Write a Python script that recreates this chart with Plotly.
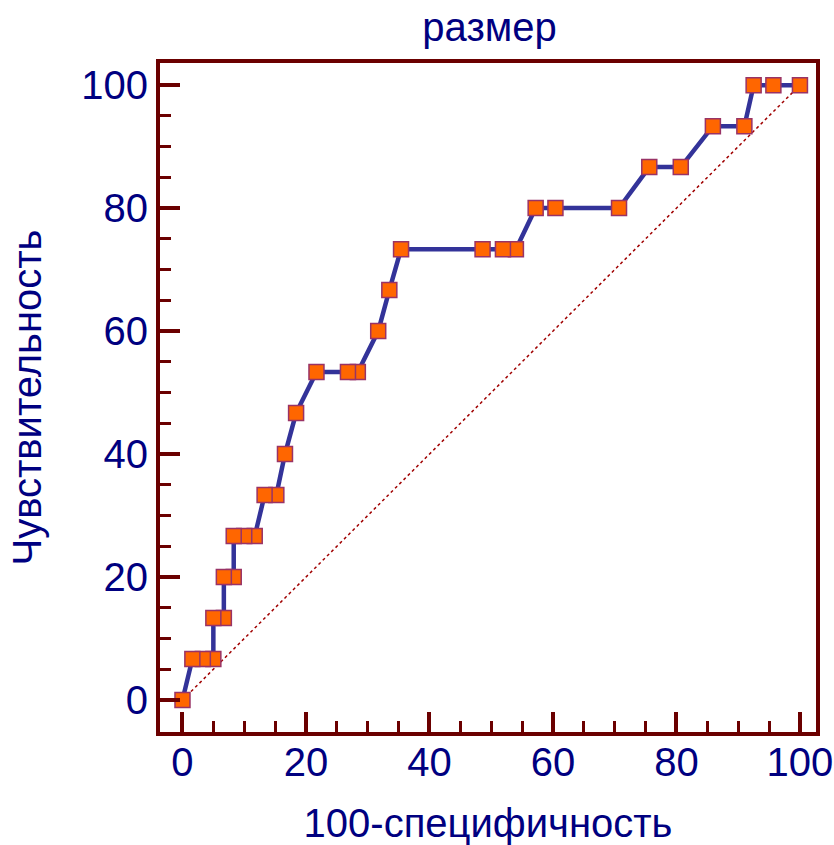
import plotly.graph_objects as go

# ROC data (100-specificity, sensitivity)
fpr = [0, 1.6, 3.3, 5.0, 5.0, 6.7, 6.7, 8.3, 8.3, 10.0, 11.7, 13.3, 15.2, 16.6, 18.4,
       21.7, 26.8, 28.4, 31.7, 33.5, 35.4, 48.6, 51.9, 54.0, 57.2, 60.4, 70.7,
       75.6, 80.7, 85.9, 91.0, 92.5, 95.7, 100]
tpr = [0, 6.67, 6.67, 6.67, 13.33, 13.33, 20, 20, 26.67, 26.67, 26.67, 33.33, 33.33,
       40, 46.67, 53.33, 53.33, 53.33, 60, 66.67, 73.33, 73.33, 73.33, 73.33,
       80, 80, 80, 86.67, 86.67, 93.33, 93.33, 100, 100, 100]
diag_x = [0, 100]
diag_y = [0, 100]

title_text = "размер"
x_title = "100-специфичность"
y_title = "Чувствительность"
tick_vals = [0, 20, 40, 60, 80, 100]
minor_vals = [v for v in range(5, 100, 5) if v % 20 != 0]

navy = "#000080"
frame = "#6B0000"
font_family = "Liberation Sans, Arial, sans-serif"

fig = go.Figure()
fig.add_trace(go.Scatter(x=diag_x, y=diag_y, mode="lines",
                         line=dict(color="#A00000", width=1.5, dash="dot"),
                         hoverinfo="skip", showlegend=False))
fig.add_trace(go.Scatter(x=fpr[::-1], y=tpr[::-1], mode="lines+markers",
                         line=dict(color="#333399", width=4.5),
                         marker=dict(symbol="square", size=15, color="#FF6600",
                                     line=dict(color="#993366", width=1.5)),
                         showlegend=False))

axis_common = dict(
    showgrid=False, zeroline=False, automargin=False,
    showline=True, mirror=True, linecolor=frame, linewidth=4,
    ticks="inside", ticklen=20, tickwidth=4, tickcolor=frame,
    tickvals=tick_vals,
    tickfont=dict(family=font_family, size=40, color=navy),
    minor=dict(ticks="inside", ticklen=11, tickwidth=3, tickcolor=frame,
               tickvals=minor_vals, showgrid=False),
)

fig.update_layout(
    width=834, height=845,
    margin=dict(l=160, r=18, t=63, b=113),
    paper_bgcolor="white", plot_bgcolor="white",
    title=dict(text=title_text, x=0.587, xanchor="center", y=1 - 27 / 845, yanchor="middle",
               font=dict(family=font_family, size=40, color=navy)),
    xaxis=dict(range=[-3.64, 102.6], **axis_common, ticklabelstandoff=-8,
               title=dict(text=x_title, standoff=30,
                          font=dict(family=font_family, size=40, color=navy))),
    yaxis=dict(range=[-5.2, 103.6], **axis_common,
               title=dict(text=y_title, standoff=28,
                          font=dict(family=font_family, size=40, color=navy))),
)

fig.write_html("out.html")
